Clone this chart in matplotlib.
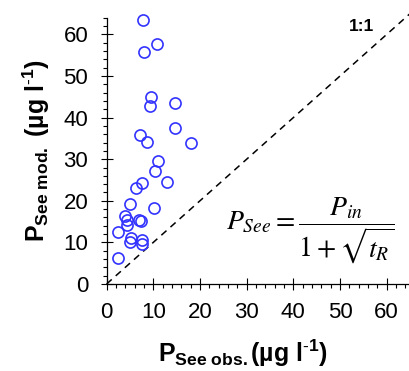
import numpy as np
import matplotlib
matplotlib.use('Agg')
import matplotlib.pyplot as plt
from matplotlib.ticker import MultipleLocator

plt.rcParams['font.family'] = ['Liberation Sans', 'DejaVu Sans']
plt.rcParams['mathtext.fontset'] = 'custom'
plt.rcParams['mathtext.rm'] = 'Liberation Sans'
plt.rcParams['mathtext.it'] = 'Liberation Sans:italic'
plt.rcParams['mathtext.bf'] = 'Liberation Sans:bold'

# observed vs modelled P concentration (ug/l)
p_obs = [7.9, 10.7, 8.1, 9.6, 9.4, 14.7, 14.6, 7.2, 8.7, 18.0,
         11.0, 10.4, 12.9, 7.6, 6.4, 5.1, 10.2, 3.9, 4.3, 4.4,
         6.9, 7.3, 2.5, 5.3, 5.0, 7.6, 7.6, 2.5]
p_mod = [63.4, 57.7, 55.8, 44.9, 42.9, 43.4, 37.6, 35.9, 34.1, 33.8,
         29.6, 27.2, 24.5, 24.3, 23.0, 19.3, 18.2, 16.4, 15.5, 14.3,
         15.4, 15.2, 12.6, 11.0, 10.1, 10.6, 9.6, 6.2]
one_to_one = [0, 65]

fig = plt.figure(figsize=(4.1, 3.71), dpi=100)
ax = fig.add_axes([0.260, 0.2345, 0.74, 0.7175])

ax.plot(one_to_one, one_to_one, color='black', lw=1.1, dashes=(4.5, 3.5), clip_on=False)
ax.plot(p_obs, p_mod, 'o', ms=8, mfc='none', mec='#3333FF', mew=1.2, clip_on=False)

ax.set_xlim(0, 65)
ax.set_ylim(0, 64)
ax.xaxis.set_minor_locator(MultipleLocator(2))
ax.yaxis.set_minor_locator(MultipleLocator(2))
ax.set_xticks([0, 10, 20, 30, 40, 50, 60])
ax.set_yticks([0, 10, 20, 30, 40, 50, 60])
ax.tick_params(which='major', direction='inout', length=8.6, width=0.8, labelsize=16, pad=9)
ax.tick_params(which='minor', direction='out', length=3.2, width=0.8)
ax.spines['top'].set_visible(False)
ax.spines['right'].set_visible(False)
ax.spines['left'].set_linewidth(0.9)
ax.spines['bottom'].set_linewidth(0.9)

ax.text(54.7, 61.8, '1:1', fontsize=12.5, fontweight='bold', ha='center', va='center')
ax.text(43.6, 12.9, r'$P_{See} = \dfrac{P_{in}}{1+\sqrt{t_R}}$', fontsize=20,
        math_fontfamily='stix', ha='center', va='center')

sup = r'$^{\mathbf{\text{-}1}}$'
fig.text(158 / 410, 1 - 362 / 371, r'$\mathbf{P_{See\ obs.}}$(µg l' + sup + ')',
         fontsize=18, fontweight='bold', ha='left', va='baseline')
fig.text(45 / 410, 1 - 242 / 371, r'$\mathbf{P_{See\ mod.}}$ (µg l' + sup + ')',
         fontsize=18, fontweight='bold', ha='left', va='baseline', rotation=90,
         rotation_mode='anchor')

fig.savefig('out.png', dpi=100)
